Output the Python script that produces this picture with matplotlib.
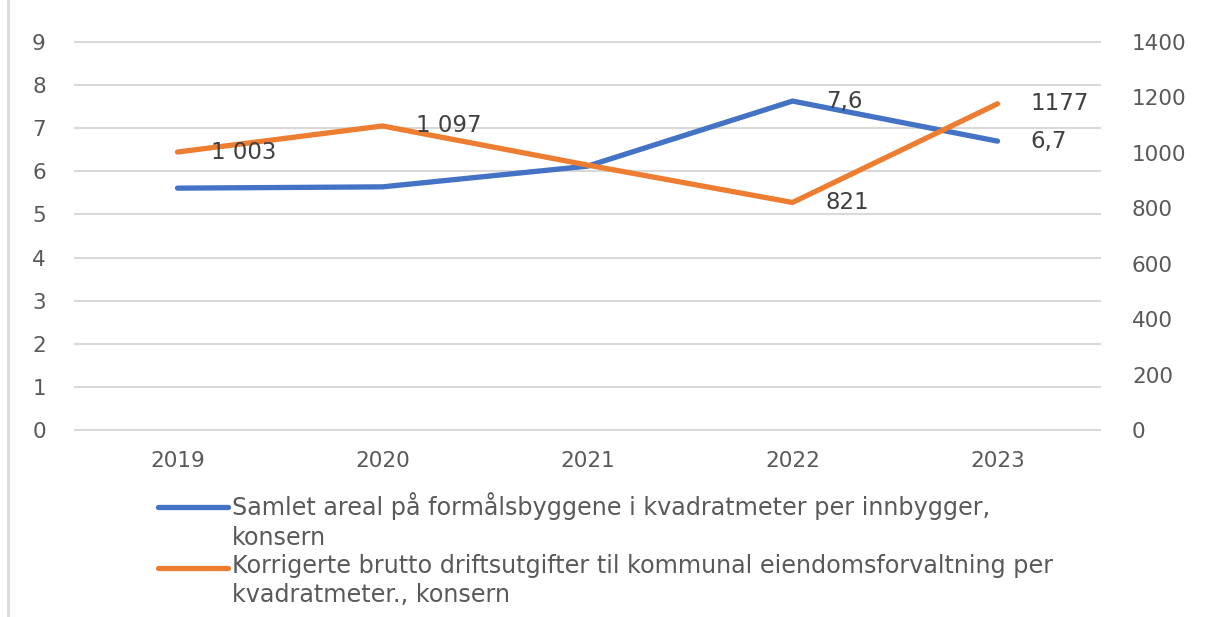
import matplotlib
matplotlib.use("Agg")
import matplotlib.pyplot as plt
from matplotlib.lines import Line2D

years = ["2019", "2020", "2021", "2022", "2023"]
areal = [5.61, 5.64, 6.12, 7.63, 6.70]
drift = [1003, 1097, 956, 821, 1177]
areal_labels = [None, None, None, "7,6", "6,7"]
drift_labels = ["1 003", "1 097", None, "821", "1177"]
legend_lines = [
    ["Samlet areal på formålsbyggene i kvadratmeter per innbygger,", "konsern"],
    ["Korrigerte brutto driftsutgifter til kommunal eiendomsforvaltning per", "kvadratmeter., konsern"],
]
left_ticks = list(range(0, 10))
right_ticks = list(range(0, 1401, 200))

BLUE = "#4472C4"
ORANGE = "#ED7D31"
TICK = "#595959"
LBL = "#404040"

plt.rcParams["font.family"] = ["DejaVu Sans"]

W, H = 1206, 617
fig = plt.figure(figsize=(W / 100, H / 100), dpi=100)
ax = fig.add_axes([75 / W, 1 - 430 / H, (1100 - 75) / W, (430 - 42) / H])
ax2 = ax.twinx()

x = list(range(len(years)))
ax.set_xlim(-0.5, len(years) - 0.5)
ax.set_ylim(0, 9)
ax2.set_ylim(0, 1400)

ax.set_yticks(left_ticks)
ax2.set_yticks(right_ticks)
ax.set_xticks(x)
ax.set_xticklabels(years)

for a in (ax, ax2):
    for s in a.spines.values():
        s.set_visible(False)
    a.tick_params(length=0, labelsize=15.5, labelcolor=TICK)
ax.tick_params(axis="y", pad=21)
ax2.tick_params(axis="y", pad=23)
ax.tick_params(axis="x", pad=15)

ax.grid(axis="y", color="#d9d9d9", linewidth=1.5)
for gl in ax.get_ygridlines():
    gl.set_clip_on(False)
ax.set_axisbelow(True)

ax.plot(x, areal, color=BLUE, linewidth=3.8, solid_capstyle="round", solid_joinstyle="miter", zorder=3)
ax2.plot(x, drift, color=ORANGE, linewidth=3.8, solid_capstyle="round", solid_joinstyle="miter", zorder=3)

for xi, v, lab in zip(x, areal, areal_labels):
    if lab:
        ax.annotate(lab, (xi, v), xytext=(24, 0), textcoords="offset points",
                    ha="left", va="center", fontsize=16.5, color=LBL)
for xi, v, lab in zip(x, drift, drift_labels):
    if lab:
        ax2.annotate(lab, (xi, v), xytext=(24, 0), textcoords="offset points",
                     ha="left", va="center", fontsize=16.5, color=LBL)

# legend
handle_y = [507, 568]
baselines = [[515, 545], [573, 602]]
for col, hy, lines, bls in zip([BLUE, ORANGE], handle_y, legend_lines, baselines):
    fig.add_artist(Line2D([158 / W, 228 / W], [1 - hy / H, 1 - hy / H], color=col,
                          linewidth=3.8, solid_capstyle="round", transform=fig.transFigure))
    for t, b in zip(lines, bls):
        fig.text(232 / W, 1 - b / H, t, fontsize=17.2, color=TICK, ha="left", va="baseline")

# left frame line
fig.add_artist(Line2D([8 / W, 8 / W], [0, 1], color="#d9d9d9", linewidth=2,
                      transform=fig.transFigure))

fig.savefig("out.png", dpi=100)
